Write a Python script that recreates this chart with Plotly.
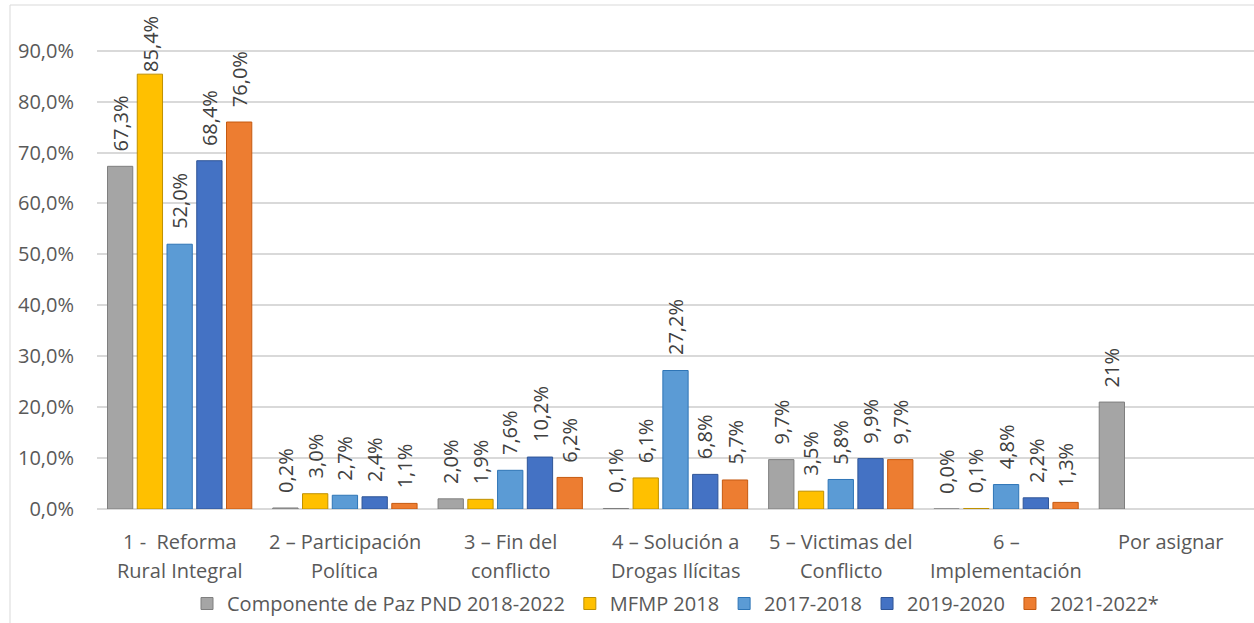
import plotly.graph_objects as go

cat_line1 = ["1 -  Reforma", "2 – Participación", "3 – Fin del", "4 – Solución a",
             "5 – Victimas del", "6 –", "Por asignar"]
cat_line2 = ["Rural Integral", "Política", "conflicto", "Drogas Ilícitas",
             "Conflicto", "Implementación", ""]
categories = [a + " " + b if b else a for a, b in zip(cat_line1, cat_line2)]

series_names = ["Componente de Paz PND 2018-2022", "MFMP 2018", "2017-2018",
                "2019-2020", "2021-2022*"]
paz_pnd = [0.673, 0.002, 0.020, 0.001, 0.097, 0.000, 0.21]
mfmp_2018 = [0.854, 0.030, 0.019, 0.061, 0.035, 0.001, None]
y2017_2018 = [0.520, 0.027, 0.076, 0.272, 0.058, 0.048, None]
y2019_2020 = [0.684, 0.024, 0.102, 0.068, 0.099, 0.022, None]
y2021_2022 = [0.760, 0.011, 0.062, 0.057, 0.097, 0.013, None]
series_values = [paz_pnd, mfmp_2018, y2017_2018, y2019_2020, y2021_2022]
label_decimals = [[1, 1, 1, 1, 1, 1, 0], [1] * 7, [1] * 7, [1] * 7, [1] * 7]

colors = ["#A5A5A5", "#FFC000", "#5B9BD5", "#4472C4", "#ED7D31"]
edge = ["#7F7F7F", "#BF9000", "#2E75B6", "#2F5597", "#C55A11"]

FONT = "Open Sans, Carlito, Calibri, sans-serif"
FS = 20
BARGAP = 0.10
GROUPGAP = 0.15
Y_TOP = 0.98


def fmt(v, d):
    s = f"{v * 100:.{d}f}%"
    return s.replace(".", ",")


fig = go.Figure()
n_series = len(series_names)
slot = (1 - BARGAP) / n_series
annotations = []
for i, (name, vals, decs, c, e) in enumerate(zip(series_names, series_values,
                                                 label_decimals, colors, edge)):
    fig.add_trace(go.Bar(
        name=name, x=categories, y=vals,
        marker=dict(color=c, line=dict(color=e, width=1)),
    ))
    # data labels, rotated, just above each bar (kept inside the chart top)
    for j, (v, d) in enumerate(zip(vals, decs)):
        if v is None:
            continue
        xpos = j - (1 - BARGAP) / 2 + slot * (i + 0.5)
        if v > 0.8:
            annotations.append(dict(
                x=xpos, xref="x", y=Y_TOP, yref="y", yanchor="top", xanchor="center",
                yshift=-4, text=fmt(v, d), textangle=-90, showarrow=False,
                font=dict(family=FONT, size=FS, color="#404040")))
            continue
        annotations.append(dict(
            x=xpos, xref="x", y=v, yref="y", yanchor="bottom", xanchor="center",
            yshift=13, text=fmt(v, d), textangle=-90, showarrow=False,
            font=dict(family=FONT, size=FS, color="#404040")))

for cat, l1, l2 in zip(categories, cat_line1, cat_line2):
    annotations.append(dict(x=cat, xref="x", y=0, yref="paper", yanchor="middle",
                            yshift=-32, text=l1, showarrow=False,
                            font=dict(family=FONT, size=FS, color="#595959")))
    if l2:
        annotations.append(dict(x=cat, xref="x", y=0, yref="paper", yanchor="middle",
                                yshift=-61, text=l2, showarrow=False,
                                font=dict(family=FONT, size=FS, color="#595959")))

fig.update_layout(
    width=1254, height=623,
    margin=dict(l=97, r=0, t=10, b=113),
    paper_bgcolor="white", plot_bgcolor="white",
    separators=",.",
    barmode="group", bargap=BARGAP, bargroupgap=GROUPGAP,
    font=dict(family=FONT, size=FS, color="#595959"),
    xaxis=dict(showticklabels=False, showgrid=False, showline=False, ticks=""),
    yaxis=dict(range=[0, Y_TOP], tickvals=[i / 10 for i in range(10)],
               tickformat=".1%", showgrid=True, gridcolor="#D9D9D9", gridwidth=1.5,
               zeroline=True, zerolinecolor="#D9D9D9", zerolinewidth=1.5,
               ticks="", ticklabelstandoff=22,
               tickfont=dict(family=FONT, size=FS, color="#595959")),
    legend=dict(orientation="h", x=0.5, xanchor="center", y=-0.19, yanchor="middle",
                font=dict(family=FONT, size=FS, color="#595959"),
                itemwidth=30, traceorder="normal"),
    annotations=annotations,
    shapes=[dict(type="rect", xref="paper", yref="paper",
                 x0=(10 - 97) / 1157, x1=1.05, y0=-0.25, y1=(510 - 5) / 500,
                 line=dict(color="#D9D9D9", width=1), layer="below")],
)

fig.write_html("out.html")
